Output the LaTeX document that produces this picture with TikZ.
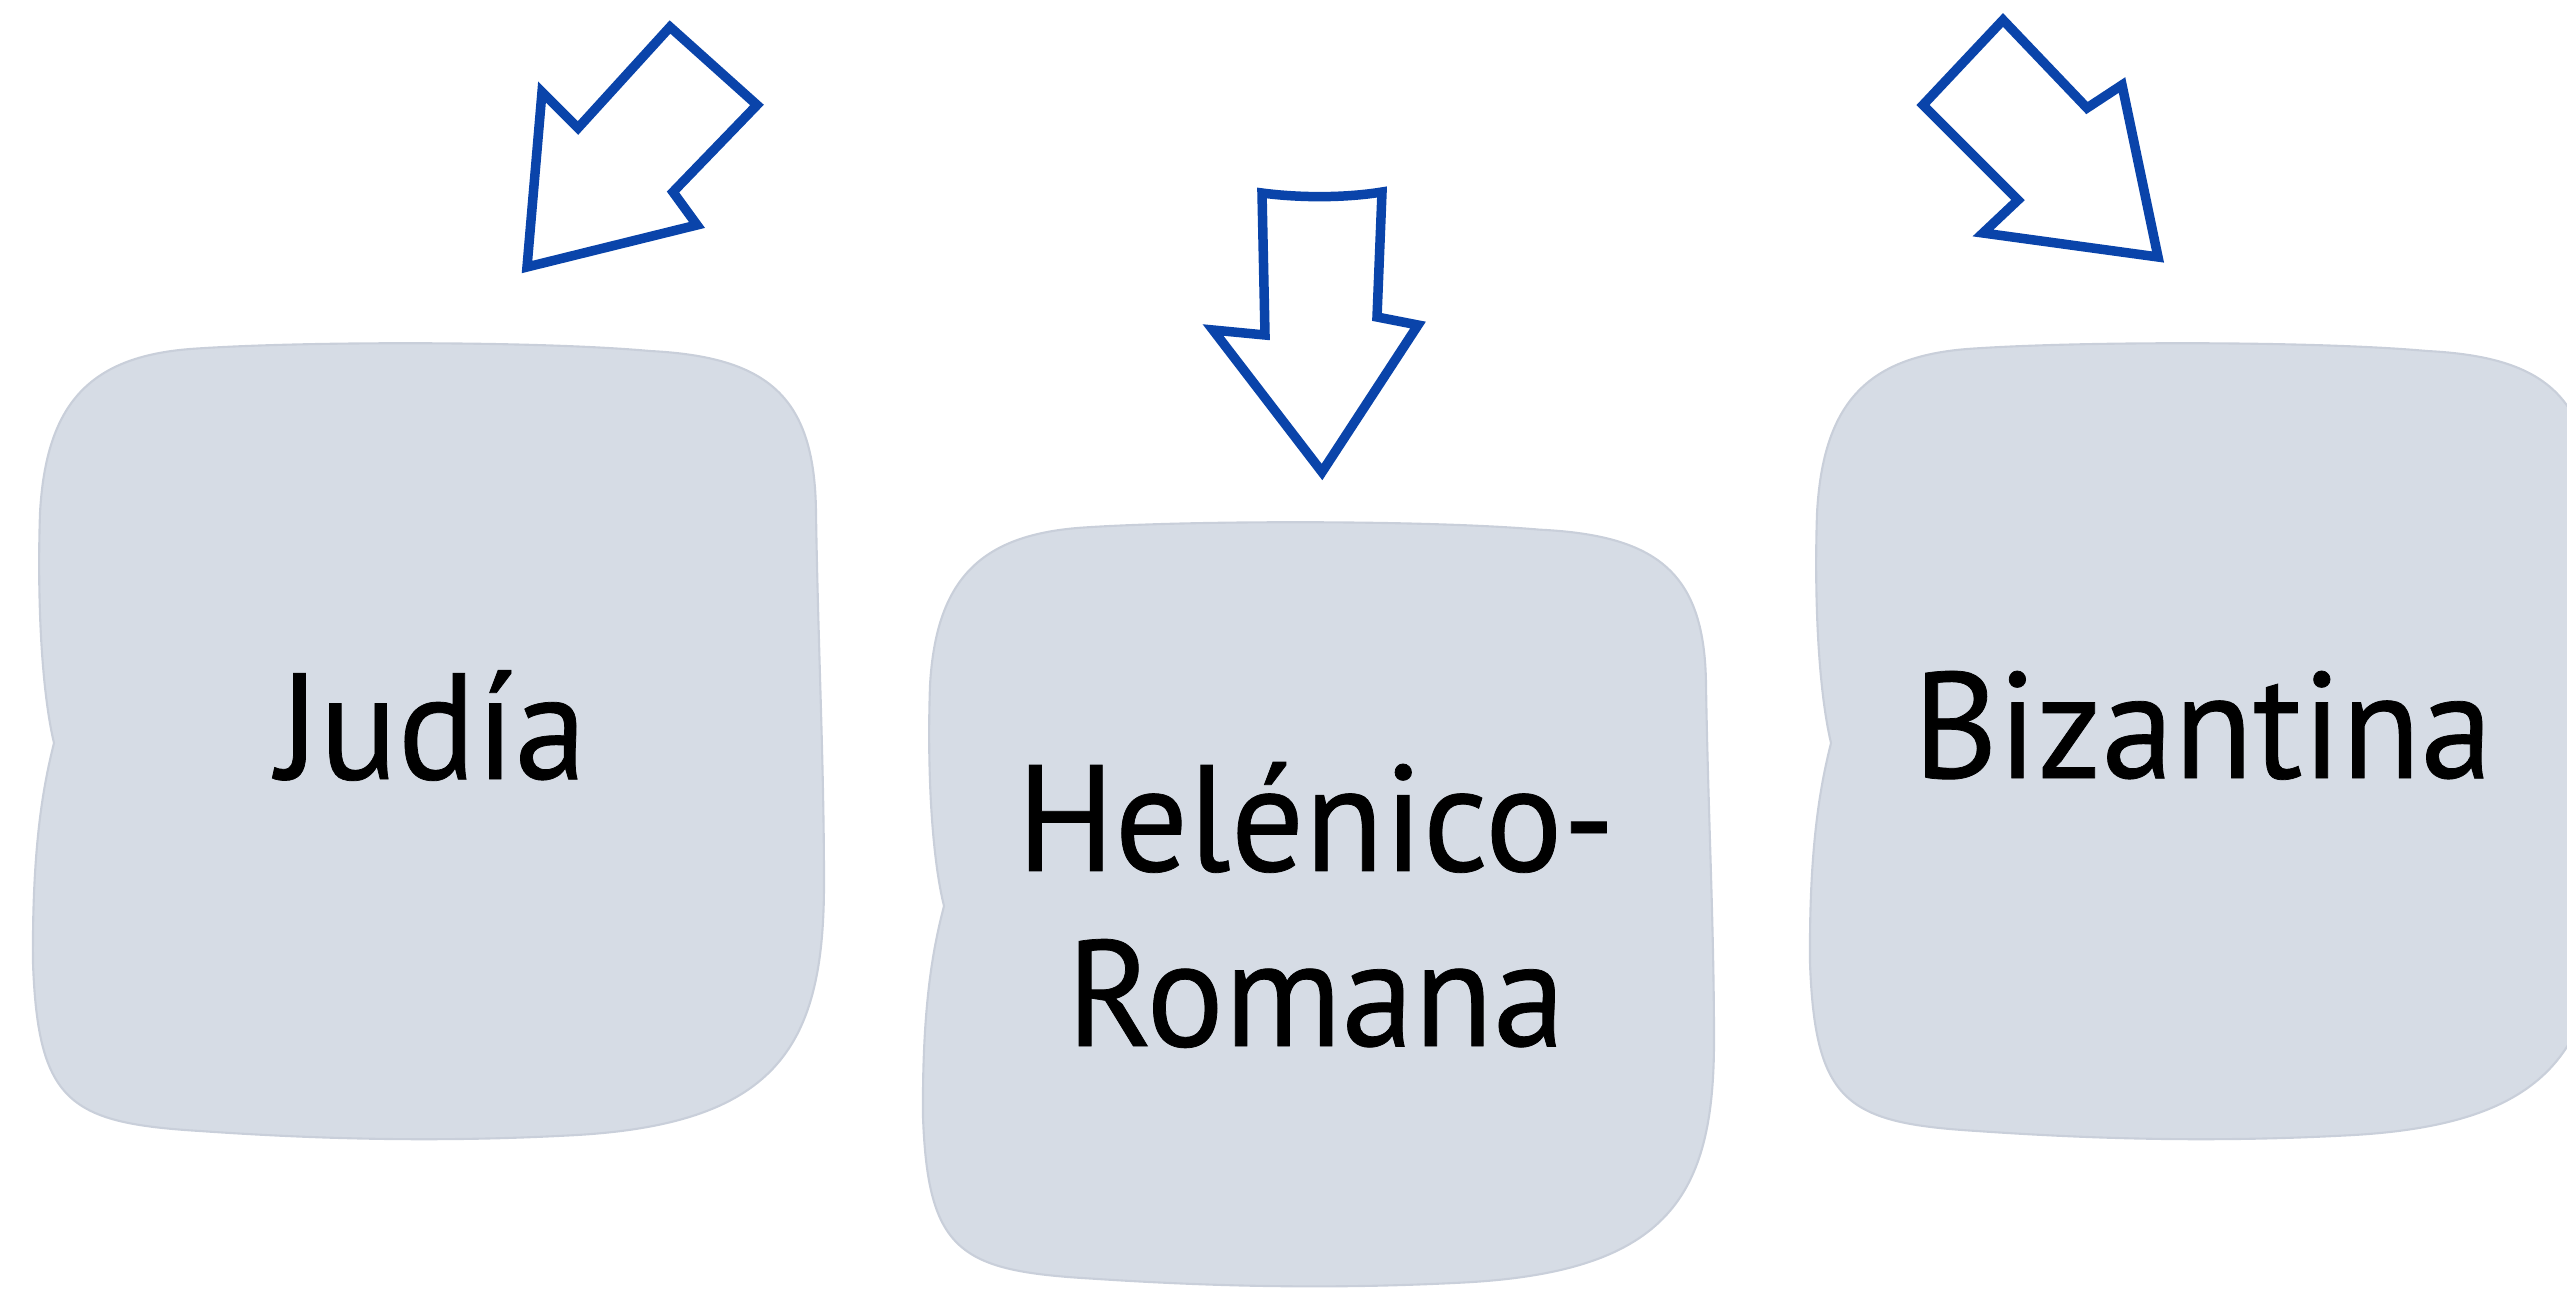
\documentclass[tikz,border=0pt]{standalone}
\usepackage{fontspec}
\setmainfont{PT Sans}[FakeStretch=0.96, FakeBold=0.5]
\definecolor{boxfill}{HTML}{D6DCE5}
\definecolor{boxedge}{HTML}{C9CFDA}
\definecolor{arrowblue}{HTML}{0A44AA}
\tikzset{
  blob/.style={fill=boxfill, draw=boxedge, line width=0.6pt},
  blobshape/.style={insert path={(190,6) .. controls (300,-2) and (540,-2) .. (650,8)
     .. controls (770,14) and (815,55) .. (816,170)
     .. controls (818,300) and (824,420) .. (824,540)
     .. controls (824,700) and (780,780) .. (577,792)
     .. controls (450,799) and (330,797) .. (200,788)
     .. controls (70,780) and (38,760) .. (33,620)
     .. controls (32,500) and (44,440) .. (54,400)
     .. controls (42,350) and (37,260) .. (40,170)
     .. controls (46,60) and (90,14) .. (190,6) -- cycle}},
  blockarrow/.style={draw=arrowblue, fill=white, line width=2.7pt, line join=miter},
  boxtext/.style={font=\fontsize{43}{49.8}\selectfont, text=black, align=center, inner sep=0pt}
}
\begin{document}
\begin{tikzpicture}[x=0.01cm, y=-0.01cm]
\useasboundingbox (0,0) rectangle (2567,1309);
\clip (0,0) rectangle (2567,1309);
% boxes
\begin{scope}[shift={(0,343)}]
  \path[blob, blobshape];
\end{scope}
\begin{scope}[shift={(890,522)}, yscale=0.96]
  \path[blob, blobshape];
\end{scope}
\begin{scope}[shift={(1777,343)}]
  \path[blob, blobshape];
\end{scope}
% arrows
\draw[blockarrow] (670,27) -- (757,105) -- (673,192) -- (697,225) -- (527,267) -- (542,92) -- (578,128) -- cycle;
\draw[blockarrow] (1262,193) .. controls (1300,198) and (1345,198) .. (1382,192) -- (1377,317) -- (1418,325) -- (1322,472) -- (1213,330) -- (1265,335) -- cycle;
\draw[blockarrow] (2003,20) -- (2087,108) -- (2122,85) -- (2158,257) -- (1983,233) -- (2018,200) -- (1923,105) -- cycle;
% texts
\node[boxtext, anchor=base] (judia) at (432,779) {Judía};
\node[boxtext] (helenico) at (1316,905) {Helénico-\\Romana};
\node[boxtext, anchor=base] (bizantina) at (2203,778) {Bizantina};
\end{tikzpicture}
\end{document}
